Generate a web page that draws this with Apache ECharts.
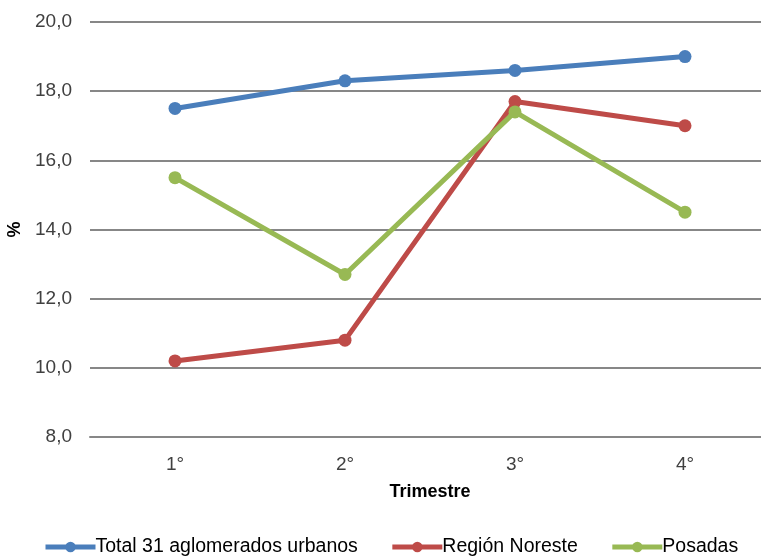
<!DOCTYPE html>
<html>
<head>
<meta charset="utf-8">
<script src="https://cdn.jsdelivr.net/npm/echarts@6/dist/echarts.min.js"></script>
<style>
  html, body { margin: 0; padding: 0; background: #fff; }
  #chart { width: 761px; height: 556px; }
</style>
</head>
<body>
<div id="chart"></div>
<script>
const trimestres = ['1°', '2°', '3°', '4°']
const total31 = [17.5, 18.3, 18.6, 19.0]
const regionNoreste = [10.2, 10.8, 17.7, 17.0]
const posadas = [15.5, 12.7, 17.4, 14.5]
const seriesNames = ['Total 31 aglomerados urbanos', 'Región Noreste', 'Posadas']

const chart = echarts.init(document.getElementById('chart'))
const font = 'Liberation Sans, Arial, sans-serif'

const mkSeries = (name, data, color) => ({
  name: name,
  type: 'line',
  data: data,
  symbol: 'circle',
  symbolSize: 13,
  itemStyle: { color: color },
  lineStyle: { color: color, width: 5 },
  emphasis: { disabled: true },
})

const option = {
  backgroundColor: '#fff',
  animation: false,
  color: ['#4a7ebb', '#be4b48', '#98b954'],
  textStyle: { fontFamily: font },
  grid: {
    left: 90,
    right: -9,
    top: 22,
    bottom: 119,
    outerBoundsMode: 'none',
  },
  legend: {
    bottom: -6,
    left: 38,
    itemGap: 32,
    itemWidth: 50,
    itemHeight: 13,
    lineStyle: { width: 5 },
    textStyle: {
      fontFamily: font,
      fontSize: 19.5,
      color: '#000',
      padding: [0, 0, 0, -5],
    },
    data: seriesNames,
  },
  xAxis: {
    type: 'category',
    data: trimestres,
    boundaryGap: true,
    name: 'Trimestre',
    nameLocation: 'middle',
    nameGap: 46,
    nameTextStyle: {
      fontFamily: font,
      fontSize: 18,
      fontWeight: 'bold',
      color: '#000',
    },
    axisLine: { lineStyle: { color: '#878787', width: 2 } },
    axisTick: { show: false },
    axisLabel: {
      color: '#404040',
      fontSize: 19,
      margin: 18,
    },
  },
  yAxis: {
    type: 'value',
    min: 8,
    max: 20,
    interval: 2,
    name: '%',
    nameLocation: 'middle',
    nameGap: 57,
    nameRotate: 90,
    nameTextStyle: {
      fontFamily: font,
      fontSize: 18,
      fontWeight: 'bold',
      color: '#000',
    },
    axisLine: { show: false },
    axisTick: { show: false },
    axisLabel: {
      color: '#404040',
      fontSize: 19,
      margin: 18,
      formatter: (v) => v.toFixed(1).replace('.', ','),
    },
    splitLine: { lineStyle: { color: '#878787', width: 2 } },
  },
  series: [
    mkSeries(seriesNames[0], total31, '#4a7ebb'),
    mkSeries(seriesNames[1], regionNoreste, '#be4b48'),
    mkSeries(seriesNames[2], posadas, '#98b954'),
  ],
}

chart.setOption(option)
</script>
</body>
</html>
